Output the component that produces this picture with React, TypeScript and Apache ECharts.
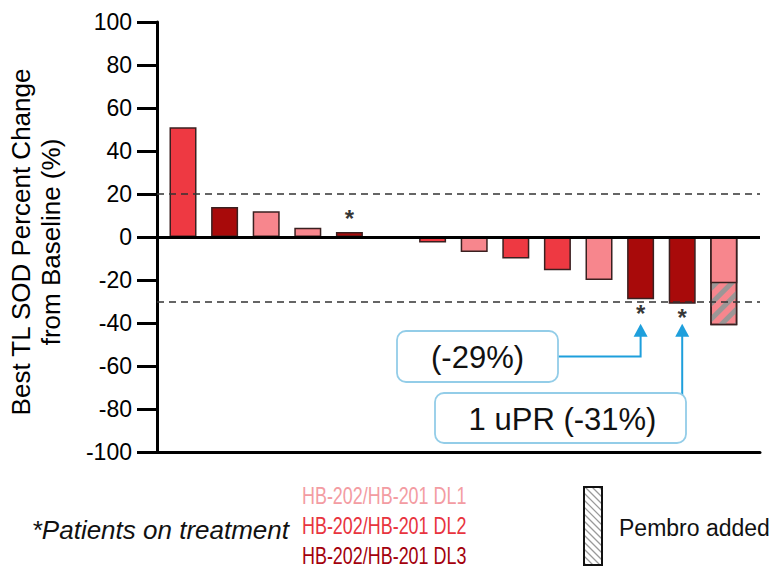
import React, { useEffect, useRef } from 'react';
import * as echarts from 'echarts';

// ---- data ----
const patientValues: (number | null)[] = [51, 14, 12, 4.3, 2.3, null, -2.5, -7, -10, -15.5, -20, -29, -31, -41];
const doseLevels: (number | null)[] = [2, 3, 1, 1, 3, null, 2, 1, 2, 2, 1, 3, 3, 1];
const onTreatment = [4, 11, 12];
const pembroIndex = 13;
const prePembroValue = -21.5;
const referenceLines = [20, -30];
const yMin = -100;
const yMax = 100;
const yInterval = 20;
const doseNames = ['HB-202/HB-201 DL1', 'HB-202/HB-201 DL2', 'HB-202/HB-201 DL3'];
const doseColors = ['#f7868d', '#ee3942', '#a80a0a'];
const doseTextColors = ['#f39ca2', '#e8343e', '#a3000c'];
const annotations = [
  { index: 11, text: '(-29%)' },
  { index: 12, text: '1 uPR (-31%)' },
];
const yTitle = 'Best TL SOD Percent Change\nfrom Baseline (%)';
const footNote = '*Patients on treatment';
const pembroLabel = 'Pembro added';

const FONT = '"Liberation Sans", Arial, Helvetica, sans-serif';

export default function App() {
  const ref = useRef<HTMLDivElement>(null);
  useEffect(() => {
    if (!ref.current) return;
    const chart = echarts.init(ref.current, undefined, { renderer: 'svg' });

    const barData = patientValues.map((v, i) => {
      if (v === null) return null;
      const val = i === pembroIndex ? prePembroValue : v;
      const dl = doseLevels[i] as number;
      return {
        value: [i, val],
        itemStyle: { color: doseColors[dl - 1] },
      };
    }).filter((d) => d !== null);

    const pembroData = [{
      value: [pembroIndex, patientValues[pembroIndex]],
      itemStyle: { color: doseColors[(doseLevels[pembroIndex] as number) - 1] },
    }];

    const starData = onTreatment.map((i) => ({
      value: [i, patientValues[i]],
      label: { position: (patientValues[i] as number) >= 0 ? 'top' : 'bottom' },
    }));

    const option: any = {
      animation: false,
      backgroundColor: '#fff',
      grid: { left: 157, right: 20, top: 22, bottom: 116 },
      xAxis: {
        type: 'value',
        min: -0.625,
        max: 13.87,
        axisLine: { show: true, onZero: false, lineStyle: { color: '#000', width: 3 } },
        axisTick: { show: false },
        axisLabel: { show: false },
        splitLine: { show: false },
      },
      yAxis: {
        type: 'value',
        min: yMin,
        max: yMax,
        interval: yInterval,
        axisLine: { show: true, onZero: false, lineStyle: { color: '#000', width: 3 } },
        axisTick: { show: true, length: 20, lineStyle: { color: '#000', width: 3 } },
        axisLabel: { fontSize: 23, color: '#000', margin: 25, fontFamily: FONT },
        splitLine: { show: false },
      },
      series: [
        {
          type: 'bar',
          name: 'pembro',
          data: pembroData,
          barWidth: 27,
          barGap: '-100%',
          itemStyle: {
            borderColor: '#3a2020',
            borderWidth: 1.5,
            decal: {
              symbol: 'rect',
              symbolSize: 1,
              color: 'rgba(150,150,150,0.95)',
              dashArrayX: [1, 0],
              dashArrayY: [5, 6],
              rotation: -Math.PI / 4,
            },
          },
        },
        {
          type: 'bar',
          name: 'patients',
          data: barData,
          barWidth: 27,
          barGap: '-100%',
          itemStyle: { borderColor: '#3a2020', borderWidth: 1.5 },
          markLine: {
            silent: true,
            symbol: ['none', 'none'],
            label: { show: false },
            data: [
              ...referenceLines.map((v) => ({
                yAxis: v,
                lineStyle: { color: '#333', width: 1.5, type: [7, 5] },
              })),
              { yAxis: 0, lineStyle: { color: '#000', width: 3, type: 'solid' } },
            ],
          },
        },
        {
          type: 'scatter',
          name: 'onTreatment',
          data: starData,
          symbolSize: 0,
          label: {
            show: true,
            formatter: '*',
            fontSize: 24,
            fontWeight: 'bold',
            color: '#000',
            distance: 2,
            fontFamily: FONT,
          },
        },
      ],
    };
    chart.setOption(option);

    // annotations computed from data positions
    const px = (i: number, v: number) => chart.convertToPixel({ gridIndex: 0 }, [i, v]) as number[];
    const arrowColor = '#1e9fdc';
    const boxStroke = '#93cde8';
    const p1 = px(annotations[0].index, patientValues[annotations[0].index] as number);
    const p2 = px(annotations[1].index, patientValues[annotations[1].index] as number);
    const tipY = Math.max(p1[1], p2[1]) + 20;
    const arrowHead = (x: number) => ({
      type: 'polygon',
      shape: { points: [[x, tipY], [x - 7, tipY + 13], [x + 7, tipY + 13]] },
      style: { fill: arrowColor },
    });
    const box1 = { x: 397, y: 331, w: 161, h: 51 };
    const box2 = { x: 435, y: 393, w: 251, h: 50 };

    // hatched legend box
    const hb = { x: 584, y: 487, w: 18, h: 78 };
    const hatch: any[] = [];
    const step = 7;
    for (let c = -hb.h + 2; c < hb.w; c += step) {
      const sx = c >= 0 ? c : 0;
      const sy = c >= 0 ? 0 : -c;
      const t = Math.min(hb.w - sx, hb.h - sy);
      hatch.push({
        type: 'line',
        shape: { x1: hb.x + sx, y1: hb.y + sy, x2: hb.x + sx + t, y2: hb.y + sy + t },
        style: { stroke: '#9a9a9a', lineWidth: 1.2 },
      });
    }

    const graphic: any[] = [
      {
        type: 'text',
        x: 36,
        y: 242,
        rotation: Math.PI / 2,
        style: {
          text: yTitle,
          align: 'center',
          verticalAlign: 'middle',
          fontSize: 26,
          lineHeight: 30,
          fill: '#000',
          fontFamily: FONT,
        },
      },
      // connectors
      {
        type: 'polyline',
        shape: { points: [[box1.x + box1.w, box1.y + box1.h / 2], [p1[0], box1.y + box1.h / 2], [p1[0], tipY + 12]] },
        style: { stroke: arrowColor, lineWidth: 2, fill: 'none' },
      },
      {
        type: 'line',
        shape: { x1: p2[0], y1: box2.y + 2, x2: p2[0], y2: tipY + 12 },
        style: { stroke: arrowColor, lineWidth: 2 },
      },
      arrowHead(p1[0]),
      arrowHead(p2[0]),
      {
        type: 'rect',
        shape: { x: box1.x, y: box1.y, width: box1.w, height: box1.h, r: 9 },
        style: { fill: '#fff', stroke: boxStroke, lineWidth: 1.8 },
      },
      {
        type: 'text',
        x: box1.x + box1.w / 2,
        y: box1.y + box1.h / 2 + 1,
        style: { text: annotations[0].text, align: 'center', verticalAlign: 'middle', fontSize: 31, fill: '#111', fontFamily: FONT },
      },
      {
        type: 'rect',
        shape: { x: box2.x, y: box2.y, width: box2.w, height: box2.h, r: 9 },
        style: { fill: '#fff', stroke: boxStroke, lineWidth: 1.8 },
      },
      {
        type: 'text',
        x: box2.x + box2.w / 2 + 2,
        y: box2.y + box2.h / 2 + 1,
        style: { text: annotations[1].text, align: 'center', verticalAlign: 'middle', fontSize: 31, fill: '#111', fontFamily: FONT },
      },
      // legend
      {
        type: 'text',
        x: 289,
        y: 530,
        style: { text: footNote, align: 'right', verticalAlign: 'middle', fontSize: 26, fontStyle: 'italic', fill: '#111', fontFamily: FONT },
      },
      ...doseNames.map((n, k) => ({
        type: 'text',
        x: 302,
        y: 496 + k * 30,
        scaleX: 0.78,
        style: { text: n, align: 'left', verticalAlign: 'middle', fontSize: 23, lineHeight: 20, fill: doseTextColors[k], fontFamily: FONT },
      })),
      {
        type: 'rect',
        shape: { x: hb.x, y: hb.y, width: hb.w, height: hb.h },
        style: { fill: '#fff', stroke: 'none' },
      },
      ...hatch,
      {
        type: 'rect',
        shape: { x: hb.x, y: hb.y, width: hb.w, height: hb.h },
        style: { fill: 'none', stroke: '#111', lineWidth: 2 },
      },
      {
        type: 'text',
        x: 619,
        y: 528,
        style: { text: pembroLabel, align: 'left', verticalAlign: 'middle', fontSize: 23, fill: '#111', fontFamily: FONT },
      },
    ];
    chart.setOption({ graphic });

    return () => chart.dispose();
  }, []);

  return (
    <div
      ref={ref}
      style={{ position: 'fixed', left: 0, top: 0, width: 780, height: 568, background: '#fff' }}
    />
  );
}
